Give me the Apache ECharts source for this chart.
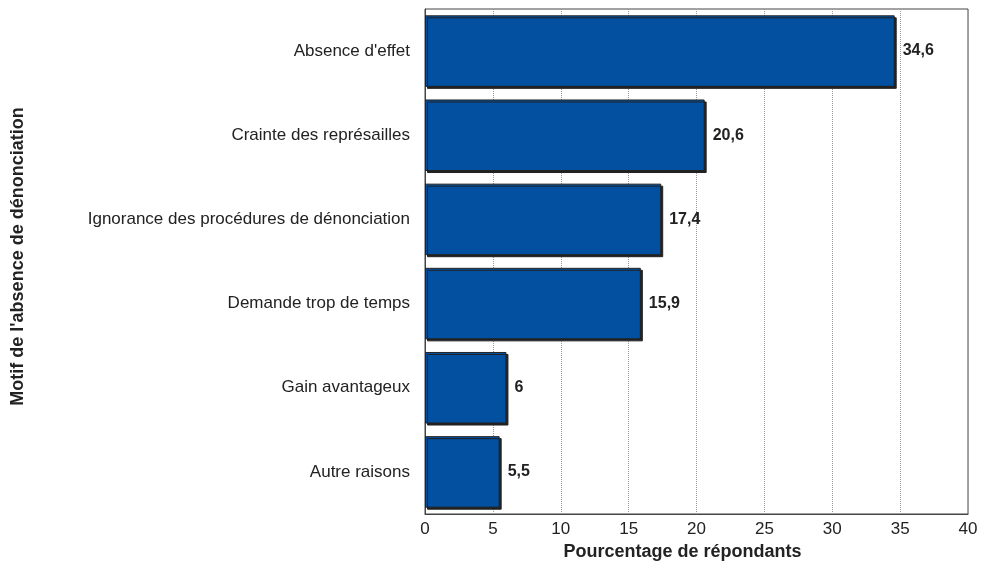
<!DOCTYPE html>
<html><head><meta charset="utf-8">
<script src="https://cdn.jsdelivr.net/npm/echarts@6/dist/echarts.min.js"></script>
<style>html,body{margin:0;padding:0;background:#fff}#c{width:985px;height:584px}</style>
</head><body><div id="c"></div>
<script>
const categories = ["Absence d'effet", "Crainte des représailles", "Ignorance des procédures de dénonciation", "Demande trop de temps", "Gain avantageux", "Autre raisons"];
const values = [34.6, 20.6, 17.4, 15.9, 6, 5.5];
const xTicks = [0, 5, 10, 15, 20, 25, 30, 35, 40];

const chart = echarts.init(document.getElementById('c'));
const font = '"Liberation Sans", Arial, sans-serif';
chart.setOption({
  animation: false,
  grid: { left: 425, right: 17, top: 9, bottom: 70, show: true, borderColor: '#444', borderWidth: 1 },
  xAxis: {
    type: 'value', min: 0, max: 40, interval: 5,
    name: 'Pourcentage de répondants', nameLocation: 'middle', nameGap: 28,
    nameTextStyle: { fontFamily: font, fontSize: 18, fontWeight: 'bold', color: '#222', padding: [0, 28, 0, 0] },
    axisLine: { show: true, lineStyle: { color: '#444' } },
    axisTick: { show: false },
    axisLabel: { fontFamily: font, fontSize: 17, color: '#222', margin: 7,
      formatter: v => xTicks.includes(v) ? String(v) : '' },
    splitLine: { show: true, lineStyle: { color: '#999', type: [1, 1], width: 1 } }
  },
  yAxis: {
    type: 'category', data: categories, inverse: true,
    name: "Motif de l'absence de dénonciation", nameLocation: 'middle', nameGap: 398, nameRotate: 90,
    nameTextStyle: { fontFamily: font, fontSize: 18, fontWeight: 'bold', color: '#222', padding: [0, 0, 0, 10] },
    axisLine: { show: true, lineStyle: { color: '#444' } },
    axisTick: { show: false },
    axisLabel: { fontFamily: font, fontSize: 17, color: '#222', margin: 15 }
  },
  series: [{
    type: 'bar', data: values, barCategoryGap: '15%',
    itemStyle: { color: '#0350A0', borderColor: '#222', borderWidth: 1,
      shadowColor: '#222', shadowOffsetX: 2, shadowOffsetY: 2, shadowBlur: 0 },
    label: { show: true, position: 'right', distance: 8, fontFamily: font, fontSize: 16, fontWeight: 'bold', color: '#222',
      formatter: p => String(p.value).replace('.', ',') }
  }]
});
</script></body></html>
